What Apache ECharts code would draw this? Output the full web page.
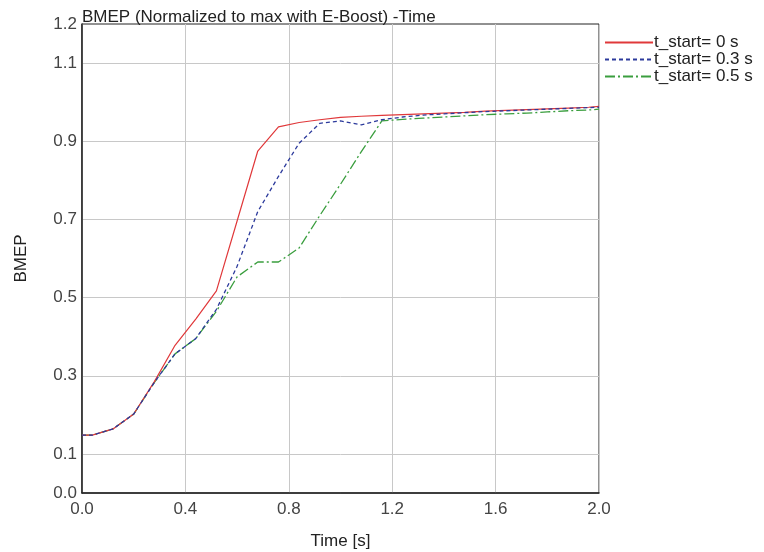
<!DOCTYPE html>
<html>
<head>
<meta charset="utf-8">
<script src="https://cdn.jsdelivr.net/npm/echarts@6/dist/echarts.min.js"></script>
<style>
  html, body { margin: 0; padding: 0; background: #fff; }
  #chart { width: 764px; height: 552px; }
</style>
</head>
<body>
<div id="chart"></div>
<script>
// Time samples [s]
const timeS = [0, 0.04, 0.12, 0.20, 0.28, 0.36, 0.44, 0.52, 0.60, 0.68, 0.76, 0.84, 0.92,
  1.00, 1.08, 1.16, 1.24, 1.32, 1.40, 1.48, 1.56, 1.64, 1.72, 1.80, 1.88, 1.96, 2.00];

// Normalized BMEP for each boost start time
const bmepStart0 = [0.148, 0.148, 0.164, 0.202, 0.285, 0.378, 0.445, 0.517, 0.696, 0.875, 0.937, 0.948, 0.955,
  0.961, 0.964, 0.966, 0.968, 0.970, 0.972, 0.974, 0.977, 0.979, 0.981, 0.983, 0.985, 0.987, 0.989];
const bmepStart03 = [0.148, 0.148, 0.164, 0.202, 0.283, 0.356, 0.395, 0.470, 0.580, 0.720, 0.810, 0.895, 0.946,
  0.952, 0.942, 0.955, 0.962, 0.967, 0.970, 0.973, 0.976, 0.978, 0.980, 0.982, 0.984, 0.986, 0.987];
const bmepStart05 = [0.148, 0.148, 0.164, 0.202, 0.283, 0.356, 0.395, 0.465, 0.553, 0.591, 0.591, 0.627, 0.710,
  0.790, 0.873, 0.952, 0.956, 0.959, 0.962, 0.965, 0.968, 0.970, 0.972, 0.975, 0.978, 0.980, 0.982];

const seriesNames = ['t_start= 0 s', 't_start= 0.3 s', 't_start= 0.5 s'];
const yTickLabels = ['0.0', '0.1', '0.3', '0.5', '0.7', '0.9', '1.1', '1.2'];

const pairs = arr => timeS.map((t, i) => [t, arr[i]]);
const font = '"Liberation Sans", Arial, sans-serif';
const fs = 17;

const chart = echarts.init(document.getElementById('chart'), null, { renderer: 'canvas' });

chart.setOption({
  animation: false,
  backgroundColor: '#ffffff',
  title: {
    text: 'BMEP (Normalized to max with E-Boost) -Time',
    left: 77, top: 4,
    textStyle: { fontFamily: font, fontSize: fs, fontWeight: 'normal', color: '#222' }
  },
  legend: {
    orient: 'vertical',
    left: 599, top: 29,
    itemWidth: 48, itemHeight: 14, itemGap: 0,
    itemStyle: { opacity: 0 },
    textStyle: { fontFamily: font, fontSize: fs, color: '#222', padding: [0, 0, 0, -4] },
    data: seriesNames
  },
  grid: {
    left: 82, top: 24, right: 165, bottom: 59,
    containLabel: false, outerBoundsMode: 'none',
    show: true, borderColor: '#222', borderWidth: 1, backgroundColor: 'transparent'
  },
  xAxis: {
    type: 'value', min: 0, max: 2, interval: 0.4,
    name: 'Time [s]', nameLocation: 'middle', nameGap: 40,
    nameTextStyle: { fontFamily: font, fontSize: fs, color: '#222' },
    axisLine: { show: true, lineStyle: { color: '#222', width: 1.5 } },
    axisTick: { show: false },
    axisLabel: { fontFamily: font, fontSize: fs, color: '#444', margin: 8, formatter: v => v.toFixed(1) },
    splitLine: { show: true, lineStyle: { color: '#c8c8c8', width: 1 } }
  },
  yAxis: {
    type: 'value', min: 0, max: 1.2, interval: 0.1,
    name: 'BMEP', nameLocation: 'middle', nameGap: 52,
    nameTextStyle: { fontFamily: font, fontSize: fs, color: '#222' },
    axisLine: { show: true, lineStyle: { color: '#222', width: 1.5 } },
    axisTick: { show: false },
    axisLabel: {
      fontFamily: font, fontSize: fs, color: '#444', margin: 5,
      formatter: v => (yTickLabels.indexOf(v.toFixed(1)) >= 0 ? v.toFixed(1) : '')
    },
    // grid lines only at the odd tenths
    splitLine: { show: true, lineStyle: { color: ['rgba(0,0,0,0)', '#c8c8c8'], width: 1 } }
  },
  series: [
    {
      name: seriesNames[0], type: 'line', data: pairs(bmepStart0),
      symbol: 'none', z: 3,
      lineStyle: { color: '#e0383a', width: 1.2, type: 'solid' },
      itemStyle: { color: '#e0383a' }
    },
    {
      name: seriesNames[1], type: 'line', data: pairs(bmepStart03),
      symbol: 'none', z: 4,
      lineStyle: { color: '#2c3a9c', width: 1.3, type: [4, 3] },
      itemStyle: { color: '#2c3a9c' }
    },
    {
      name: seriesNames[2], type: 'line', data: pairs(bmepStart05),
      symbol: 'none', z: 2,
      lineStyle: { color: '#3a9e3e', width: 1.3, type: [10, 3, 2, 3] },
      itemStyle: { color: '#3a9e3e' }
    }
  ]
});
</script>
</body>
</html>
